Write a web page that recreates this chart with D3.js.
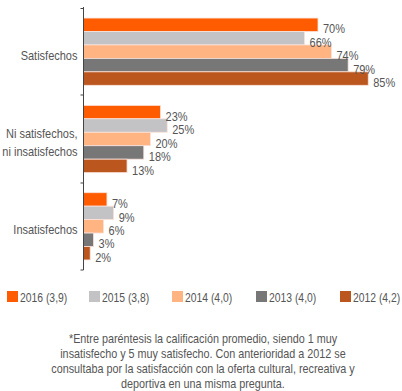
<!DOCTYPE html>
<html>
<head>
<meta charset="utf-8">
<script src="https://cdn.jsdelivr.net/npm/d3@7"></script>
<style>
  body { margin: 0; background: #fff; }
  svg { font-family: "Liberation Sans Narrow", "Arial Narrow", "Liberation Sans", sans-serif; }
  .lbl { fill: #555; font-size: 12.5px; }
  .note { fill: #555; font-size: 12px; }
</style>
</head>
<body>
<div id="chart"></div>
<script>
// categories and series
var categories = ["Satisfechos", "Ni satisfechos,\nni insatisfechos", "Insatisfechos"];
var years = ["2016 (3,9)", "2015 (3,8)", "2014 (4,0)", "2013 (4,0)", "2012 (4,2)"];
var colors = ["#ff5b00", "#c3c3c6", "#ffb482", "#777777", "#ba561e"];
var v2016 = [70, 23, 7];
var v2015 = [66, 25, 9];
var v2014 = [74, 20, 6];
var v2013 = [79, 18, 3];
var v2012 = [85, 13, 2];
var series = [v2016, v2015, v2014, v2013, v2012];
var note = ["*Entre paréntesis la calificación promedio, siendo 1 muy",
            "insatisfecho y 5 muy satisfecho. Con anterioridad a 2012 se",
            "consultaba por la satisfacción con la oferta cultural, recreativa y",
            "deportiva en una misma pregunta."];

var w = 402, h = 391;
var padLeft = 83.5, padTop = 8, padBottom = 270;

// squeeze text horizontally around its anchor, to look like a narrow face
function narrow(sel, k) {
  sel.each(function() {
    var x = +this.getAttribute("x");
    d3.select(this).attr("transform", "translate(" + x + ",0) scale(" + k + ",1) translate(" + (-x) + ",0)");
  });
}

function draw() {
  var svg = d3.select("#chart").append("svg")
    .attr("width", w)
    .attr("height", h);

  var xScale = d3.scaleLinear().domain([0, 100]).range([padLeft, padLeft + 335]);
  var yScale = d3.scaleBand().domain(categories).range([padTop, padBottom]).paddingInner(0.23).paddingOuter(0.115);
  var inner = d3.scaleBand().domain(d3.range(years.length)).range([0, yScale.bandwidth()]);

  var rows = [];
  categories.forEach(function(c, i) {
    series.forEach(function(s, j) {
      rows.push({ cat: c, k: j, v: s[i] });
    });
  });

  var bars = svg.append("g");
  bars.selectAll("rect").data(rows).enter().append("rect")
    .attr("x", xScale(0))
    .attr("y", function(d) { return yScale(d.cat) + inner(d.k); })
    .attr("width", function(d) { return xScale(d.v) - xScale(0); })
    .attr("height", inner.bandwidth())
    .attr("fill", function(d) { return colors[d.k]; })
    .attr("stroke", "#fbe3dc")
    .attr("stroke-width", 0.8);

  bars.selectAll("text").data(rows).enter().append("text")
    .attr("class", "lbl")
    .attr("x", function(d) { return xScale(d.v) + 5; })
    .attr("y", function(d) { return yScale(d.cat) + inner(d.k) + inner.bandwidth() + 2; })
    .text(function(d) { return d.v + "%"; })
    .call(narrow, 0.88);

  // axis with ticks at band boundaries
  var bounds = [padTop + 0.5, 95, 183, padBottom];
  var ax = svg.append("g");
  ax.append("line")
    .attr("x1", padLeft).attr("x2", padLeft)
    .attr("y1", padTop - 1).attr("y2", padBottom)
    .attr("stroke", "#444").attr("stroke-width", 1);
  ax.selectAll(".tk").data(bounds).enter().append("line")
    .attr("x1", padLeft - 3).attr("x2", padLeft)
    .attr("y1", function(d) { return d; }).attr("y2", function(d) { return d; })
    .attr("stroke", "#444");

  // category labels
  categories.forEach(function(c) {
    var lines = c.split("\n");
    var cy = yScale(c) + yScale.bandwidth() / 2;
    lines.forEach(function(l, i) {
      svg.append("text").attr("class", "lbl").attr("text-anchor", "end")
        .attr("x", padLeft - 6)
        .attr("y", cy + 8 + (i - (lines.length - 1) / 2) * 18)
        .text(l)
        .call(narrow, 0.88);
    });
  });

  // legend
  var lx = [7, 89, 172, 256, 340];
  var lg = svg.append("g");
  years.forEach(function(y, i) {
    lg.append("rect")
      .attr("x", lx[i]).attr("y", 291)
      .attr("width", 11).attr("height", 11)
      .attr("fill", colors[i]);
    lg.append("text").attr("class", "lbl")
      .attr("x", lx[i] + 13).attr("y", 302)
      .text(y)
      .call(narrow, 0.83);
  });

  // footnote
  svg.append("g").selectAll("text").data(note).enter().append("text")
    .attr("class", "note")
    .attr("text-anchor", "middle")
    .attr("x", 203)
    .attr("y", function(d, i) { return 343 + i * 15; })
    .text(function(d) { return d; })
    .call(narrow, 0.9);
}

window.onload = draw;
</script>
</body>
</html>
